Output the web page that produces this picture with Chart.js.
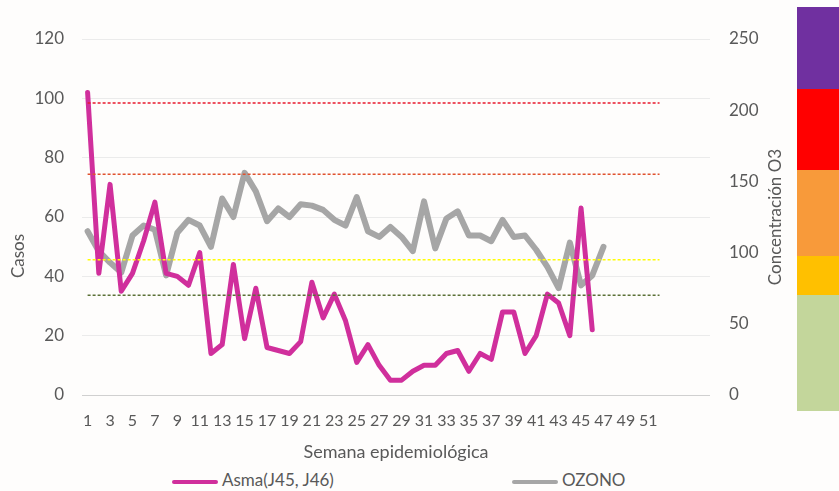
<!DOCTYPE html>
<html lang="es">
<head>
<meta charset="utf-8">
<title>Asma y ozono por semana epidemiológica</title>
<script src="https://cdn.jsdelivr.net/npm/chart.js@4.4.1/dist/chart.umd.min.js"></script>
<style>
  body { margin: 0; background: #fefdfc; font-family: Lato, sans-serif; }
  #wrap { position: relative; width: 839px; height: 491px; overflow: hidden; }
  #grafica { position: absolute; left: 0; top: 0; }
  .franja { position: absolute; left: 797px; width: 42px; }
  #leyenda { position: absolute; top: 470px; left: 0; width: 797px; height: 20px; font-size: 17px; color: #595959; }
  .item { position: absolute; top: 0; line-height: 20px; white-space: nowrap; }
  .item i { display: inline-block; width: 46px; height: 4px; vertical-align: middle; margin-right: 4px; border-radius: 2px; }
</style>
</head>
<body>
<div id="wrap">
  <canvas id="grafica" width="797" height="466"></canvas>
  <!-- franja de colores de calidad del aire -->
  <div class="franja" style="top:7px;height:82px;background:#7030a0"></div>
  <div class="franja" style="top:89px;height:81px;background:#ff0000"></div>
  <div class="franja" style="top:170px;height:86px;background:#f89a3a"></div>
  <div class="franja" style="top:256px;height:39px;background:#ffc000"></div>
  <div class="franja" style="top:295px;height:116px;background:#c3d69b"></div>
  <div id="leyenda">
    <span class="item" style="left:172px"><i style="background:#d02f9c"></i>Asma(J45, J46)</span>
    <span class="item" style="left:512px"><i style="background:#a6a6a6"></i>OZONO</span>
  </div>
</div>
<script>
// semanas epidemiologicas (eje x), con cuatro posiciones vacias al final
var semanas = ['1','2','3','4','5','6','7','8','9','10','11','12','13','14','15','16','17','18','19','20',
  '21','22','23','24','25','26','27','28','29','30','31','32','33','34','35','36','37','38','39','40',
  '41','42','43','44','45','46','47','48','49','50','51','52'];
var relleno = ['', '', '', ''];

// casos de asma por semana (eje izquierdo)
var asma = [102, 41, 71, 35, 41, 52, 65, 41, 40, 37, 48, 14, 17, 44, 19, 36, 16, 15, 14, 18,
  38, 26, 34, 25, 11, 17, 10, 5, 5, 8, 10, 10, 14, 15, 8, 14, 12, 28, 28, 14,
  20, 34, 31, 20, 63, 22];

// concentracion de ozono por semana (eje derecho)
var ozono = [115, 101, 93, 86, 112, 119, 116, 84, 114, 123, 119, 104, 138, 125, 156, 143, 122, 131, 125, 134,
  133, 130, 123, 119, 139, 115, 111, 118, 111, 101, 136, 103, 124, 129, 112, 112, 108, 123, 111, 112,
  102, 90, 75, 107, 77, 84, 104];

// limites de concentracion O3
var limites = [205, 155, 95, 70];
var coloresLimite = ['#e8192c', '#e0522f', '#ffff00', '#5b7136'];

var gris = '#595959';

var limitesDatasets = limites.map(function(v, i) {
    return {
        label: 'limite ' + v,
        data: [{x: semanas[0], y: v}, {x: semanas[semanas.length - 1], y: v}],
        yAxisID: 'y2',
        borderColor: coloresLimite[i],
        borderWidth: 1.5,
        borderDash: [3, 2],
        pointRadius: 0,
        order: 0
    };
});

// titulos de ejes verticales, ambos leen de abajo hacia arriba
var titulosEjes = {
    id: 'titulosEjes',
    afterDraw: function(chart) {
        var ctx = chart.ctx;
        ctx.save();
        ctx.fillStyle = gris;
        ctx.font = '17px Lato';
        ctx.textAlign = 'center';
        ctx.textBaseline = 'middle';
        ctx.translate(19, 256);
        ctx.rotate(-Math.PI / 2);
        ctx.fillText('Casos', 0, 0);
        ctx.restore();
        ctx.save();
        ctx.fillStyle = gris;
        ctx.font = '17px Lato';
        ctx.textAlign = 'center';
        ctx.textBaseline = 'middle';
        ctx.translate(776, (chart.chartArea.top + chart.chartArea.bottom) / 2);
        ctx.rotate(-Math.PI / 2);
        ctx.fillText('Concentración O3', 0, 0);
        ctx.restore();
    }
};

var ctx = document.getElementById('grafica');
var grafica = new Chart(ctx, {
    type: 'line',
    data: {
        labels: semanas.concat(relleno),
        datasets: [
            {
                label: 'Asma(J45, J46)',
                data: asma,
                yAxisID: 'y',
                borderColor: '#d02f9c',
                borderWidth: 5,
                borderJoinStyle: 'round',
                borderCapStyle: 'round',
                pointRadius: 0,
                order: 1
            },
            {
                label: 'OZONO',
                data: ozono,
                yAxisID: 'y2',
                borderColor: '#a6a6a6',
                borderWidth: 6,
                borderJoinStyle: 'round',
                borderCapStyle: 'round',
                pointRadius: 0,
                order: 2
            }
        ].concat(limitesDatasets)
    },
    options: {
        responsive: false,
        animation: false,
        layout: { padding: { top: 39, bottom: 1, left: 0, right: 0 } },
        plugins: {
            legend: { display: false },
            tooltip: { enabled: false }
        },
        scales: {
            x: {
                offset: true,
                grid: { display: false, drawTicks: false },
                border: { display: false },
                ticks: {
                    autoSkip: false,
                    maxRotation: 0,
                    padding: 16,
                    color: gris,
                    font: { family: 'Lato', size: 16 },
                    callback: function(value, index) {
                        return index % 2 === 0 ? this.getLabelForValue(value) : '';
                    }
                },
                title: {
                    display: true,
                    text: 'Semana epidemiológica',
                    color: gris,
                    font: { family: 'Lato', size: 18 },
                    padding: { top: 0, bottom: 2 }
                },
                afterFit: function(scale) { scale.height = 70; }
            },
            y: {
                position: 'left',
                min: 0,
                max: 120,
                ticks: { stepSize: 20, padding: 18, color: gris, font: { family: 'Lato', size: 17 } },
                grid: {
                    drawTicks: false,
                    color: function(c) { return c.tick && c.tick.value === 0 ? '#d0d0d0' : '#ebebeb'; }
                },
                border: { display: false },
                afterFit: function(scale) { scale.width = 82; }
            },
            y2: {
                position: 'right',
                min: 0,
                max: 250,
                ticks: { stepSize: 50, padding: 19, color: gris, font: { family: 'Lato', size: 17 } },
                grid: { display: false, drawTicks: false },
                border: { display: false },
                afterFit: function(scale) { scale.width = 87; }
            }
        }
    },
    plugins: [titulosEjes]
});
</script>
</body>
</html>
